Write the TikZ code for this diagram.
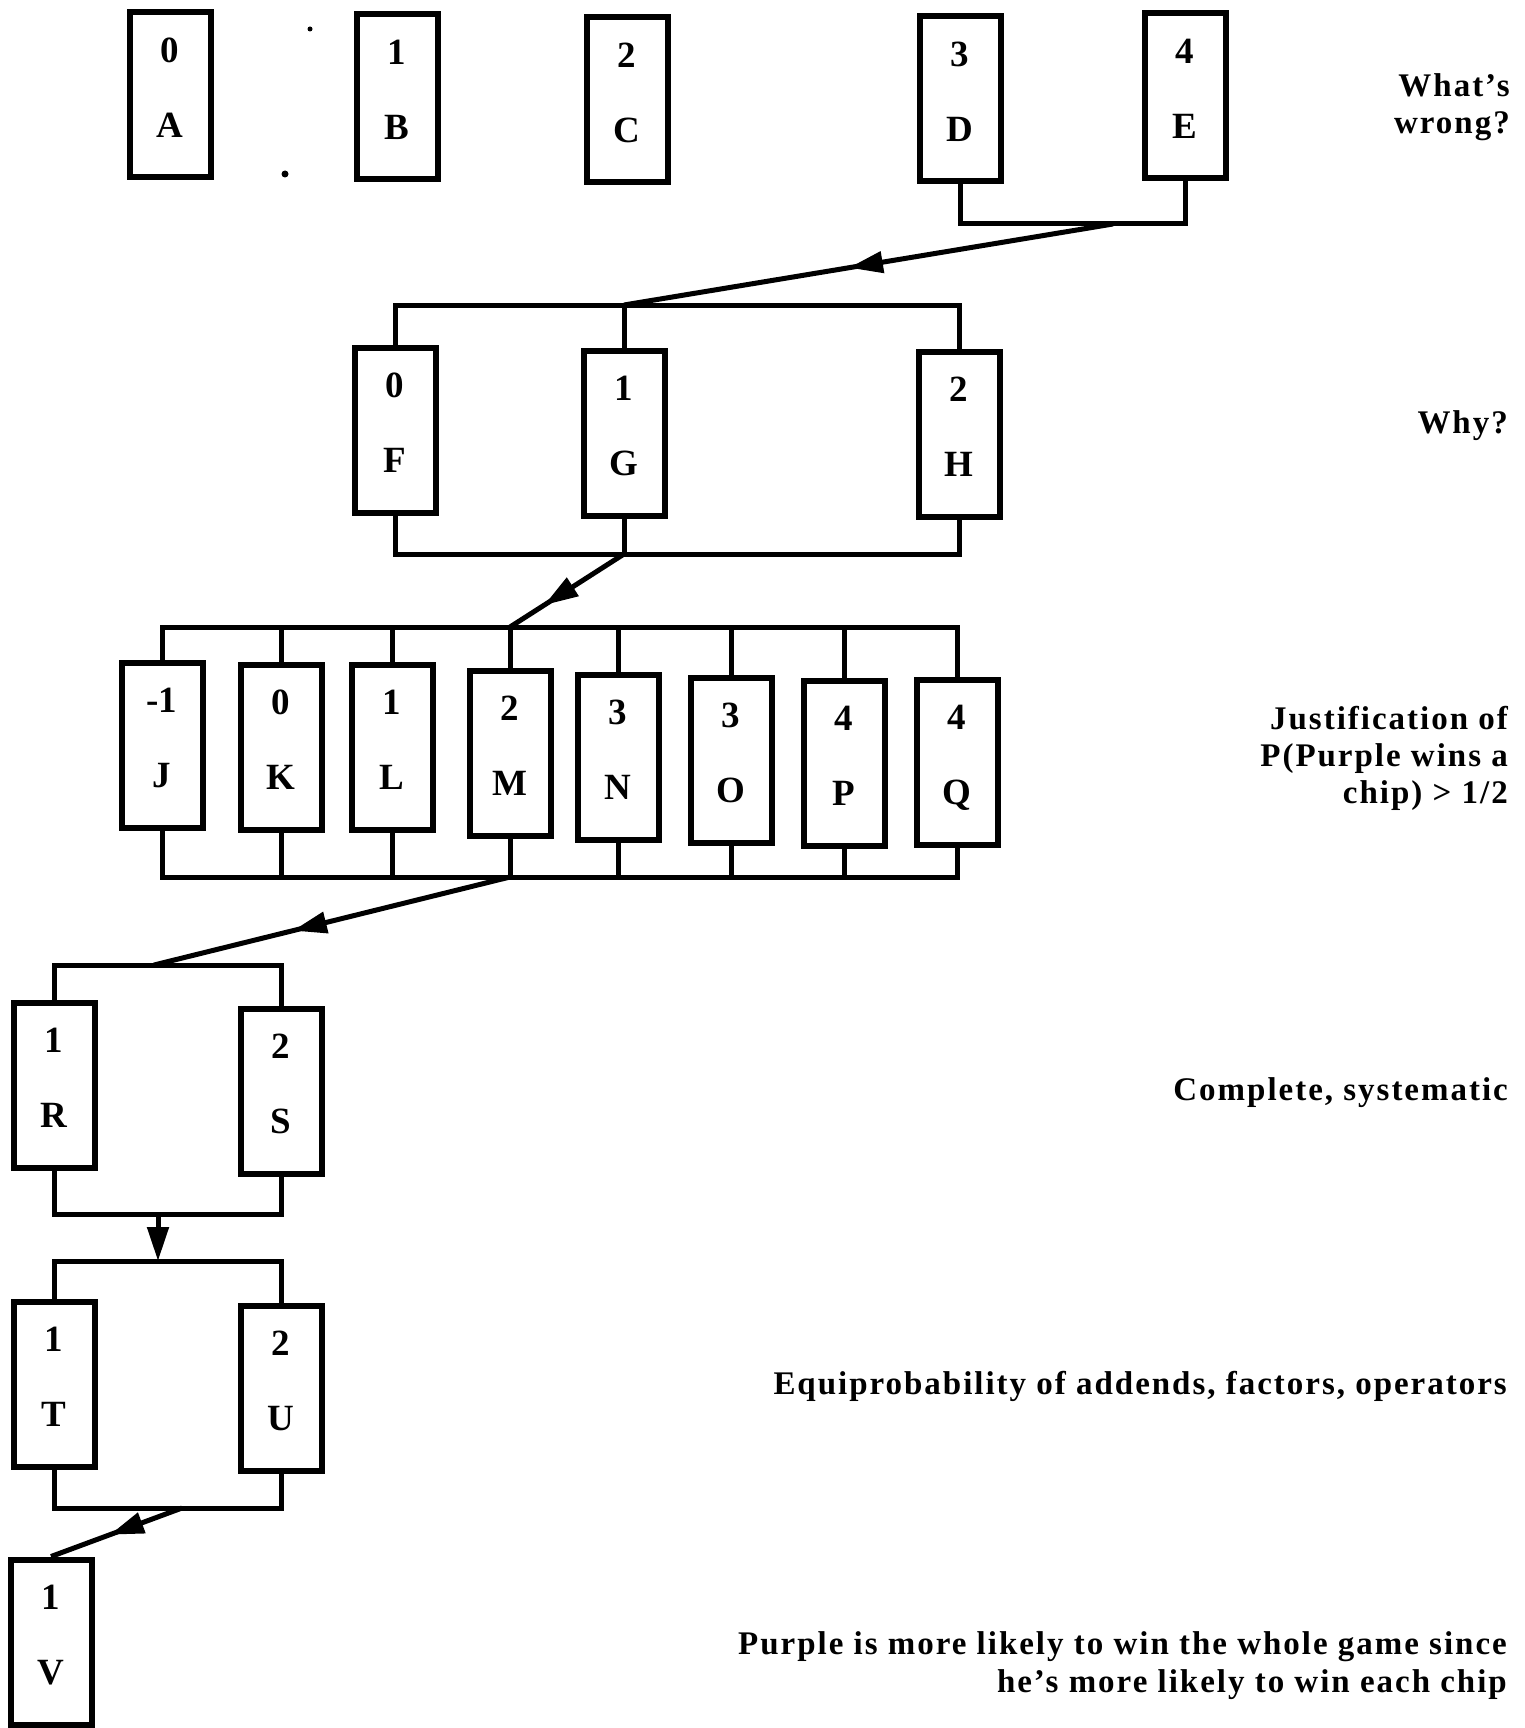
\documentclass[tikz,border=0pt]{standalone}
\usepackage{fontspec}
\setmainfont{Liberation Serif}
\usetikzlibrary{arrows.meta,decorations.markings}

\tikzset{
  chip/.style={draw, line width=6pt, minimum width=81pt, minimum height=165pt,
    inner sep=0pt, align=center, text depth=14pt,
    font=\bfseries\fontsize{37}{75}\selectfont},
  link/.style={line width=5pt},
  head/.tip={Triangle[length=34pt,width=21pt]},
  flow/.style={link, postaction={decorate},
    decoration={markings,
      mark=at position #1 with {\arrow{head}}}},
  flow/.default=0.55,
  drop/.style={link, -head},
  note/.style={anchor=base east, inner sep=0pt,
    font=\bfseries\fontsize{33}{37}\selectfont\addfontfeature{LetterSpace=6}},
}

\begin{document}
\begin{tikzpicture}[x=1pt, y=-1pt]
\useasboundingbox (0,0) rectangle (1524,1728);

% first row of chips
\node[chip] (A) at (170,95)  {0\\A};
\node[chip] (B) at (397,97)  {1\\B};
\node[chip] (C) at (627,100) {2\\C};
\node[chip] (D) at (960,99)  {3\\D};
\node[chip] (E) at (1185,96) {4\\E};
\fill (310,29) circle (2.5pt);
\fill (285,174) circle (3.5pt);

% second row
\node[chip] (F) at (395,430) {0\\F};
\node[chip] (G) at (624,433) {1\\G};
\node[chip] (H) at (959,434) {2\\H};

% third row
\node[chip] (J) at (162,745) {-1\\J};
\node[chip] (K) at (281,747) {0\\K};
\node[chip] (L) at (392,747) {1\\L};
\node[chip] (M) at (510,753) {2\\M};
\node[chip] (N) at (618,757) {3\\N};
\node[chip] (O) at (731,760) {3\\O};
\node[chip] (P) at (844,763) {4\\P};
\node[chip] (Q) at (957,762) {4\\Q};

% lower chips
\node[chip] (R) at (54,1085)  {1\\R};
\node[chip] (S) at (281,1091) {2\\S};
\node[chip] (T) at (54,1384)  {1\\T};
\node[chip] (U) at (281,1388) {2\\U};
\node[chip] (V) at (51,1642)  {1\\V};

% bar junctions
\coordinate (deBar)  at (1113,224);
\coordinate (fghTop) at (624,305);
\coordinate (fghBot) at (624,554);
\coordinate (jqTop)  at (510,627);
\coordinate (jqBot)  at (510,877);
\coordinate (rsTop)  at (154,965);
\coordinate (rsBot)  at (158,1214);
\coordinate (tuTop)  at (158,1261);
\coordinate (tuBot)  at (182,1508);

% D, E grouped
\draw[link] (D.south) |- (deBar) -| (E.south);
\draw[flow=0.54] (deBar) -- (fghTop);

% F, G, H grouped
\draw[link] (F.north) |- (fghTop) -| (H.north);
\draw[link] (G.north) -- (fghTop);
\draw[link] (F.south) |- (fghBot) -| (H.south);
\draw[link] (G.south) -- (fghBot);
\draw[flow=0.7] (fghBot) -- (jqTop);

% J ... Q grouped
\draw[link] (J.north) |- (jqTop) -| (Q.north);
\draw[link] (J.south) |- (jqBot) -| (Q.south);
\foreach \c in {K,L,M,N,O,P}{
  \draw[link] (\c.north) -- (\c.north |- jqTop);
  \draw[link] (\c.south) -- (\c.south |- jqBot);
}
\draw[flow=0.61] (jqBot) -- (rsTop);

% R, S grouped
\draw[link] (R.north) |- (rsTop) -| (S.north);
\draw[link] (R.south) |- (rsBot) -| (S.south);
\draw[drop] (rsBot) -- (tuTop);

% T, U grouped
\draw[link] (T.north) |- (tuTop) -| (U.north);
\draw[link] (T.south) |- (tuBot) -| (U.south);
\draw[flow=0.55] (tuBot) -- (V.north);

% notes on the right
\node[note] (n1a) at (1510,97)  {What's};
\node[note] (n1b) at (1510,134) {wrong?};
\node[note] (n2)  at (1508,433) {Why?};
\node[note] (n3a) at (1508,729) {Justification of};
\node[note] (n3b) at (1508,766) {P(Purple wins a};
\node[note] (n3c) at (1508,803) {chip) > 1/2};
\node[note] (n4)  at (1508,1100) {Complete, systematic};
\node[note] (n5)  at (1507,1394) {Equiprobability of addends, factors, operators};
\node[note] (n6a) at (1507,1654) {Purple is more likely to win the whole game since};
\node[note] (n6b) at (1507,1692) {he's more likely to win each chip};
\end{tikzpicture}
\end{document}
